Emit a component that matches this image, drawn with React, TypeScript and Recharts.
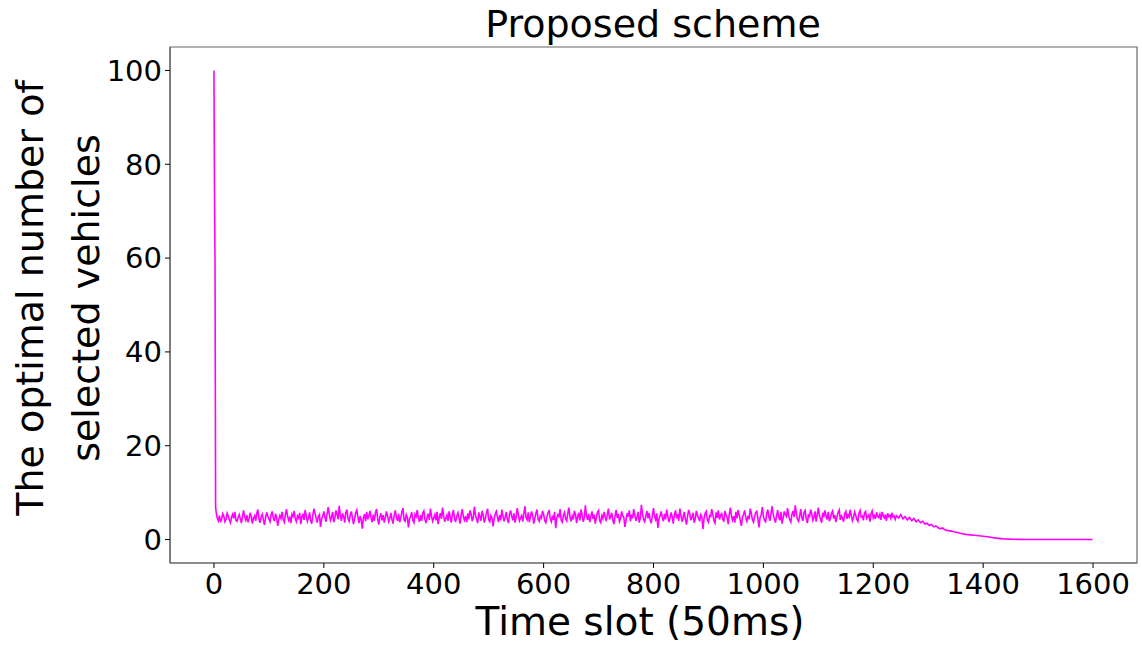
import { Line, LineChart, ReferenceArea, XAxis, YAxis } from "recharts";

// time slots shown on the x axis
const xTicks = [0, 200, 400, 600, 800, 1000, 1200, 1400, 1600];
const yTicks = [0, 20, 40, 60, 80, 100];

// first slots: the drop from the initial 100 vehicles
const spikeSlots = [0, 1, 2, 3];
const spikeCounts = [100, 74, 58, 7];

// steady noisy part, one reading every 2 slots starting at slot 4
const noiseCounts = [
  5.8, 4.6, 4.0, 5.1, 3.7, 4.4, 5.5, 4.9, 3.8, 4.3, 5.6, 5.0, 4.2, 3.6, 4.8, 5.4, 4.5, 5.9, 4.1, 3.9,
  4.7, 5.3, 4.4, 3.5, 5.0, 6.2, 4.8, 4.1, 5.2, 3.7, 4.5, 5.7, 4.9, 3.4, 4.6, 5.1, 4.0, 5.6, 6.4, 4.3,
  3.6, 4.9, 5.4, 4.2, 3.1, 4.7, 5.8, 5.0, 4.4, 3.8, 5.3, 6.0, 4.6, 3.9, 5.5, 4.8, 2.9, 4.2, 5.1, 4.5,
  5.9, 4.3, 3.7, 5.2, 6.5, 5.0, 4.1, 4.7, 3.5, 5.4, 4.9, 6.1, 4.4, 3.8, 5.0, 4.6, 5.7, 3.3, 4.8, 5.5,
  4.2, 6.3, 5.1, 3.9, 4.6, 5.8, 4.0, 3.4, 5.2, 6.6, 5.6, 4.5, 3.6, 4.9, 5.3, 2.7, 4.4, 5.0, 6.0, 4.7,
  3.8, 5.5, 6.9, 5.3, 4.1, 4.8, 5.9, 3.7, 4.6, 6.2, 5.4, 4.3, 7.2, 5.1, 4.0, 5.6, 4.9, 3.6, 5.8, 6.4,
  4.5, 3.9, 5.2, 6.0, 4.7, 3.3, 4.4, 5.7, 6.3, 4.8, 3.5, 5.0, 4.2, 2.3, 4.6, 5.4, 3.9, 5.9, 4.3, 5.1,
  6.1, 4.6, 3.7, 5.3, 4.0, 5.8, 6.5, 4.4, 3.2, 4.9, 5.6, 4.1, 5.2, 3.6, 4.7, 6.0, 5.0, 3.8, 4.5, 5.7,
  4.3, 3.4, 5.1, 6.2, 4.8, 4.0, 5.5, 3.7, 4.6, 5.9, 6.7, 4.2, 3.9, 5.3, 4.7, 2.6, 4.4, 5.0, 5.8, 4.1,
  3.6, 5.4, 4.9, 6.3, 4.5, 3.8, 5.2, 4.0, 5.7, 6.1, 4.3, 3.5, 4.8, 5.5, 4.2, 6.6, 5.0, 3.9, 4.6, 5.3,
  4.1, 5.9, 3.3, 4.7, 5.6, 4.4, 6.8, 5.1, 3.8, 4.5, 5.2, 4.0, 6.0, 4.9, 3.6, 5.4, 6.3, 4.2, 3.9, 5.0,
  5.7, 4.6, 3.4, 5.3, 6.5, 4.8, 4.1, 5.0, 3.7, 5.6, 4.3, 6.2, 5.5, 3.9, 4.7, 7.0, 5.2, 4.4, 3.5, 5.8,
  4.9, 4.0, 6.1, 5.3, 3.6, 4.5, 5.7, 6.6, 4.2, 3.8, 5.1, 4.6, 2.8, 4.4, 5.5, 6.0, 4.8, 3.7, 5.2, 4.1,
  6.4, 5.0, 3.9, 4.7, 5.9, 4.3, 3.5, 5.4, 6.2, 4.9, 4.1, 5.6, 3.6, 4.8, 6.7, 5.3, 4.0, 4.6, 5.1, 3.8,
  5.5, 7.1, 4.7, 4.2, 5.8, 3.7, 4.9, 6.0, 5.2, 3.4, 4.5, 5.6, 6.4, 4.3, 3.9, 5.0, 4.6, 6.1, 5.4, 4.0,
  3.6, 4.8, 5.7, 6.3, 4.4, 3.8, 5.1, 4.2, 5.9, 2.4, 4.6, 5.3, 4.9, 6.5, 4.1, 3.7, 5.2, 5.8, 4.5, 4.0,
  5.6, 6.8, 4.7, 3.9, 5.0, 4.3, 6.1, 5.4, 3.5, 4.8, 5.7, 4.1, 6.4, 5.2, 3.8, 4.6, 7.3, 5.0, 4.2, 5.5,
  3.7, 4.9, 6.0, 4.4, 5.3, 3.4, 4.7, 5.8, 6.2, 4.0, 3.6, 5.1, 4.5, 5.9, 4.8, 3.9, 5.4, 6.6, 4.3, 4.9,
  5.7, 4.2, 3.3, 5.0, 6.3, 4.6, 5.5, 3.8, 4.4, 6.0, 5.1, 4.7, 2.7, 4.1, 5.6, 4.9, 6.2, 3.9, 5.3, 4.5,
  6.5, 5.2, 4.0, 4.8, 5.9, 3.6, 4.6, 7.4, 5.4, 4.3, 3.8, 5.0, 6.1, 4.5, 5.7, 4.1, 3.5, 5.3, 6.7, 4.8,
  4.2, 5.6, 2.5, 4.4, 5.1, 6.0, 4.7, 3.9, 5.5, 4.3, 6.4, 5.0, 3.7, 4.6, 5.8, 4.9, 3.4, 5.2, 6.2, 4.5,
  5.4, 4.0, 6.6, 5.1, 3.8, 4.7, 5.9, 4.3, 3.2, 5.0, 6.3, 5.5, 4.1, 4.8, 5.7, 3.6, 4.4, 6.1, 5.2, 4.6,
  3.9, 5.3, 4.8, 2.2, 4.5, 5.6, 6.0, 4.2, 3.7, 5.1, 4.9, 6.5, 5.4, 4.0, 3.5, 5.8, 4.6, 6.2, 4.3, 5.0,
  5.7, 4.4, 3.8, 6.1, 5.2, 4.7, 3.3, 5.5, 6.8, 4.9, 4.1, 5.0, 3.6, 5.9, 4.5, 6.3, 5.3, 4.0, 2.9, 4.8,
  5.4, 6.2, 4.6, 3.9, 5.1, 4.3, 6.6, 5.6, 4.2, 3.7, 4.9, 5.8, 6.0, 4.4, 2.6, 4.7, 5.3, 6.9, 5.0, 4.1,
  3.8, 5.5, 6.4, 4.8, 4.0, 5.7, 7.1, 5.2, 4.5, 3.6, 5.0, 6.3, 4.7, 4.1, 5.9, 3.4, 4.6, 6.0, 5.3, 4.9,
  6.7, 5.1, 4.2, 3.7, 5.4, 6.1, 4.8, 7.3, 5.6, 4.3, 3.9, 5.0, 6.5, 4.6, 4.0, 5.8, 6.2, 4.4, 3.5, 5.2,
  4.9, 6.4, 5.5, 4.1, 4.7, 6.0, 3.8, 5.3, 6.8, 5.1, 4.4, 3.6, 5.7, 4.8, 6.2, 5.0, 4.3, 5.9, 3.9, 4.6,
  5.6, 6.1, 4.5, 5.2, 3.7, 4.9, 5.8, 6.3, 4.2, 5.0, 4.6, 3.8, 5.5, 6.0, 4.4, 5.3, 4.8, 6.4, 5.1, 4.0,
  4.7, 5.9, 5.2, 4.3, 3.9, 5.6, 6.2, 4.8, 5.0, 4.1, 5.7, 6.0, 4.5, 4.9, 5.3, 3.8, 5.5, 6.1, 4.6, 5.1,
  4.4, 5.8, 5.0, 4.7, 5.4, 4.2, 5.9, 5.1, 4.6, 5.3, 4.0, 5.6, 4.9, 5.2, 4.5, 5.7, 4.8, 5.0, 4.3, 5.1,
];
const noiseSlots = noiseCounts.map((_, i) => 4 + i * 2);

// tail: the count settles down to zero
const decaySlots = [
  1246, 1250, 1254, 1258, 1262, 1266, 1270, 1274, 1278, 1282, 1286, 1290, 1294, 1298, 1302, 1306,
  1310, 1314, 1318, 1322, 1326, 1330, 1336, 1342, 1348, 1354, 1360, 1368, 1376, 1384, 1392, 1400,
  1408, 1416, 1424, 1432, 1440, 1448, 1456, 1464, 1480, 1540, 1599,
];
const decayCounts = [
  4.6, 5.3, 4.4, 4.9, 4.2, 4.7, 4.0, 4.5, 3.8, 4.2, 3.6, 3.9, 3.3, 3.5, 3.0, 3.2,
  2.7, 2.9, 2.5, 2.3, 2.5, 2.1, 1.9, 1.8, 1.6, 1.5, 1.3, 1.1, 1.0, 0.9, 0.8, 0.7,
  0.6, 0.45, 0.3, 0.2, 0.12, 0.08, 0.05, 0.03, 0, 0, 0,
];

const slots = [...spikeSlots, ...noiseSlots, ...decaySlots];
const counts = [...spikeCounts, ...noiseCounts, ...decayCounts];
const data = slots.map((slot, i) => ({ slot, count: counts[i] }));

const FONT = "'DejaVu Sans', sans-serif";
const FRAME = "#666";

export default function App() {
  return (
    <div style={{ position: "absolute", left: 0, top: 0, width: 1142, height: 645, background: "#fff" }}>
      <LineChart
        width={1142}
        height={645}
        data={data}
        margin={{ top: 47, right: 5, bottom: 0, left: 0 }}
        style={{ fontFamily: FONT }}
      >
        <XAxis
          dataKey="slot"
          type="number"
          domain={[-80, 1680]}
          ticks={xTicks}
          allowDataOverflow
          height={82}
          tick={{ fontSize: 29, fill: "#000" }}
          tickSize={5}
          tickMargin={5}
          tickLine={{ stroke: "#000" }}
          axisLine={{ stroke: FRAME, strokeWidth: 1.2 }}
        />
        <YAxis
          type="number"
          domain={[-5, 105]}
          ticks={yTicks}
          allowDataOverflow
          width={170}
          tick={{ fontSize: 29, fill: "#000" }}
          tickSize={5}
          tickMargin={3}
          tickLine={{ stroke: "#000" }}
          axisLine={{ stroke: FRAME, strokeWidth: 1.2 }}
        />
        <ReferenceArea
          x1={-80}
          x2={1680}
          y1={-5}
          y2={105}
          fill="none"
          fillOpacity={0}
          stroke={FRAME}
          strokeWidth={1.2}
          ifOverflow="visible"
        />
        <Line
          type="linear"
          dataKey="count"
          stroke="#ff00ff"
          strokeWidth={1.6}
          dot={false}
          isAnimationActive={false}
        />
      </LineChart>
      <svg
        width={1142}
        height={645}
        style={{ position: "absolute", left: 0, top: 0, pointerEvents: "none", fontFamily: FONT }}
      >
        <text x={653} y={37} textAnchor="middle" fontSize={38} fill="#000">
          Proposed scheme
        </text>
        <text x={640} y={635} textAnchor="middle" fontSize={39} fill="#000">
          Time slot (50ms)
        </text>
        <text x={0} y={0} transform="translate(43,298) rotate(-90)" textAnchor="middle" fontSize={38} fill="#000">
          The optimal number of
        </text>
        <text x={0} y={0} transform="translate(99,298) rotate(-90)" textAnchor="middle" fontSize={38} fill="#000">
          selected vehicles
        </text>
      </svg>
    </div>
  );
}
